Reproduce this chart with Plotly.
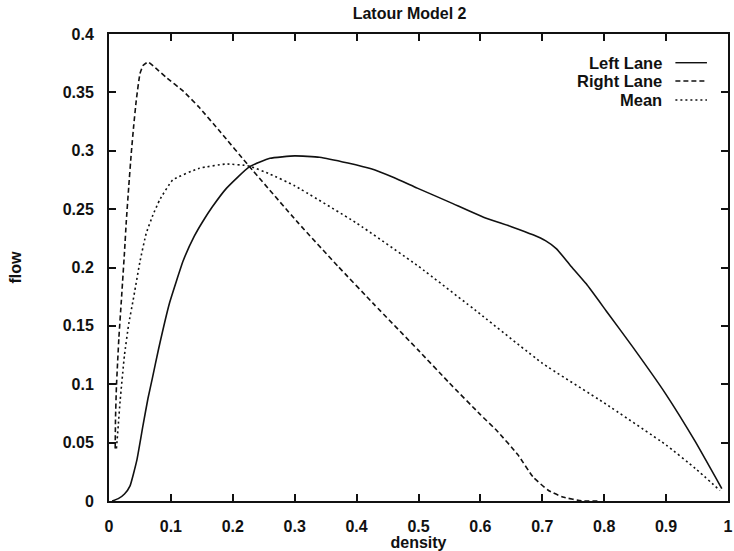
import plotly.graph_objects as go

# Flow-density curves for the Latour model, two lanes and their mean
left_density = [0.005, 0.015, 0.025, 0.034, 0.045, 0.055, 0.063, 0.07, 0.08, 0.098,
                0.12, 0.138, 0.151, 0.167, 0.19, 0.226, 0.26, 0.30, 0.34, 0.386,
                0.4235, 0.46, 0.498, 0.55, 0.605, 0.65, 0.685, 0.705, 0.723, 0.745,
                0.771, 0.803, 0.846, 0.899, 0.947, 0.99]
left_flow = [0.0, 0.002, 0.006, 0.013, 0.035, 0.065, 0.088, 0.105, 0.130, 0.170,
             0.206, 0.227, 0.239, 0.252, 0.268, 0.286, 0.2935, 0.2956, 0.2945, 0.2895,
             0.2845, 0.277, 0.268, 0.256, 0.243, 0.235, 0.228, 0.223, 0.216, 0.202,
             0.186, 0.163, 0.132, 0.092, 0.051, 0.0106]

right_density = [0.01, 0.0105, 0.012, 0.016, 0.020, 0.025, 0.028, 0.032, 0.036, 0.040,
                 0.044, 0.050, 0.055, 0.063, 0.075, 0.092, 0.12, 0.146, 0.18, 0.226,
                 0.306, 0.37, 0.429, 0.5, 0.55, 0.6, 0.627, 0.66, 0.685, 0.71,
                 0.733, 0.766, 0.79]
right_flow = [0.045, 0.07, 0.098, 0.14, 0.172, 0.213, 0.240, 0.27, 0.298, 0.322,
              0.343, 0.366, 0.373, 0.376, 0.371, 0.363, 0.351, 0.337, 0.316, 0.287,
              0.238, 0.201, 0.168, 0.129, 0.101, 0.074, 0.060, 0.040, 0.0206, 0.009,
              0.0034, 0.0, 0.0]

mean_density = [0.012, 0.015, 0.018, 0.025, 0.032, 0.039, 0.05, 0.060, 0.071, 0.082,
                0.103, 0.146, 0.189, 0.226, 0.26, 0.3, 0.4, 0.5, 0.6, 0.7,
                0.8, 0.9, 0.947, 0.987]
mean_flow = [0.045, 0.065, 0.086, 0.125, 0.152, 0.172, 0.205, 0.229, 0.245, 0.258,
             0.275, 0.285, 0.2886, 0.287, 0.280, 0.270, 0.238, 0.201, 0.160, 0.118,
             0.084, 0.048, 0.028, 0.009]

x_ticks = [0, 0.1, 0.2, 0.3, 0.4, 0.5, 0.6, 0.7, 0.8, 0.9, 1]
x_tick_text = ["0", "0.1", "0.2", "0.3", "0.4", "0.5", "0.6", "0.7", "0.8", "0.9", "1"]
y_ticks = [0, 0.05, 0.1, 0.15, 0.2, 0.25, 0.3, 0.35, 0.4]
y_tick_text = ["0", "0.05", "0.1", "0.15", "0.2", "0.25", "0.3", "0.35", "0.4"]

series = [
    ("Left Lane", left_density, left_flow, "solid"),
    ("Right Lane", right_density, right_flow, "5px,3px"),
    ("Mean", mean_density, mean_flow, "2px,3px"),
]

FONT = "Liberation Sans, Arial, Helvetica, sans-serif"
INK = "#111111"

fig = go.Figure()
for name, xs, ys, dash in series:
    fig.add_trace(go.Scatter(
        x=xs, y=ys, mode="lines", name=name,
        line=dict(color=INK, width=1.6, dash=dash, shape="spline", smoothing=0.4),
        showlegend=False,
    ))

# Key in the upper right: label text followed by a short line sample
key_rows = [0.9385, 0.8993, 0.8586]
for (name, _, _, dash), ky in zip(series, key_rows):
    fig.add_annotation(
        xref="x domain", yref="y domain", x=0.897, y=ky,
        text=f"<b>{name}</b>", showarrow=False, xanchor="right", yanchor="middle",
        font=dict(family=FONT, size=16.5, color=INK),
    )
    fig.add_shape(
        type="line", xref="x domain", yref="y domain",
        x0=0.915, x1=0.966, y0=ky, y1=ky,
        line=dict(color=INK, width=1.4, dash=dash),
    )

axis_common = dict(
    showgrid=False, zeroline=False, showline=True, linecolor=INK, linewidth=2,
    mirror="ticks", ticks="inside", ticklen=7, tickwidth=1.5, tickcolor=INK,
    tickfont=dict(family=FONT, size=16, color=INK),
    ticklabeloverflow="allow",
)

fig.update_xaxes(
    range=[0, 1], tickmode="array", tickvals=x_ticks,
    ticktext=[f"<b>{t}</b>" for t in x_tick_text],
    title=dict(text="<b>density</b>", font=dict(family=FONT, size=16, color=INK), standoff=0),
    ticklabelstandoff=10,
    **axis_common,
)
fig.update_yaxes(
    range=[0, 0.4], tickmode="array", tickvals=y_ticks,
    ticktext=[f"<b>{t}</b>" for t in y_tick_text],
    title=dict(text="<b>flow</b>", font=dict(family=FONT, size=16, color=INK), standoff=37),
    ticklabelstandoff=10,
    **axis_common,
)

fig.update_layout(
    width=734, height=551,
    margin=dict(l=109, r=1, t=34, b=50),
    paper_bgcolor="white", plot_bgcolor="white",
    title=dict(text="<b>Latour Model 2</b>", x=0.558, xanchor="center", y=0.975, yanchor="middle",
               font=dict(family=FONT, size=16, color=INK)),
)

fig.write_html("out.html")
